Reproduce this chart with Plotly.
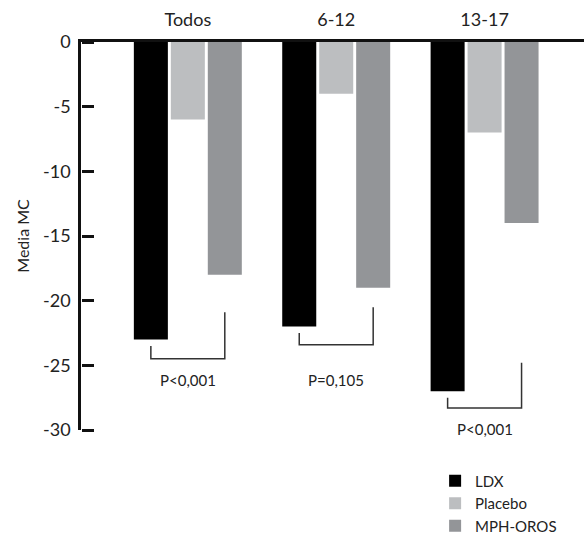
import plotly.graph_objects as go

groups = ["Todos", "6-12", "13-17"]
series = ["LDX", "Placebo", "MPH-OROS"]
ldx = [-23, -22, -27]
placebo = [-6, -4, -7]
mph = [-18, -19, -14]
colors = ["#000000", "#bcbec0", "#939598"]
p_labels = ["P<0,001", "P=0,105", "P<0,001"]
br_left_top = [-23.5, -22.5, -27.5]
br_bottom = [-24.5, -23.4, -28.3]
br_right_top = [-20.9, -20.5, -24.8]
label_y = [-26.1, -26.1, -29.9]
yticks = [0, -5, -10, -15, -20, -25, -30]
yticktext = ["0", "-5", "-10", "-15", "-20", "-25", "-30"]

bargap = 0.2525
bargroupgap = 0.08
FONT = "Lato"

fig = go.Figure()
for name, vals, c in zip(series, [ldx, placebo, mph], colors):
    fig.add_trace(go.Bar(x=groups, y=vals, name=name, marker=dict(color=c, line=dict(width=0))))

slot = (1 - bargap) / 3
shapes = []
annotations = []
for i in range(3):
    xl = i - slot
    xr = i + slot
    shapes.append(dict(type="path", xref="x", yref="y",
                       path=f"M {xl},{br_left_top[i]} L {xl},{br_bottom[i]} L {xr},{br_bottom[i]} L {xr},{br_right_top[i]}",
                       line=dict(color="#333333", width=1.5)))
    annotations.append(dict(x=i, y=label_y[i], xref="x", yref="y", text=p_labels[i],
                            showarrow=False, font=dict(family=FONT, size=15, color="#222222")))

fig.update_layout(
    width=584, height=534,
    margin=dict(l=81, r=0, t=42, b=104, autoexpand=False),
    paper_bgcolor="white", plot_bgcolor="white",
    barmode="group", bargap=bargap, bargroupgap=bargroupgap,
    shapes=shapes, annotations=annotations,
    showlegend=True,
    legend=dict(x=0.704, y=0.13, xref="paper", yref="container", xanchor="left", yanchor="top",
                font=dict(family=FONT, size=15, color="#222222"),
                bgcolor="rgba(0,0,0,0)", itemclick=False),
    font=dict(family=FONT, color="#222222"),
    # overlay axis used only to draw the inward-pointing tick marks
    yaxis2=dict(overlaying="y", side="right", anchor="free", position=0,
                range=[-30, 0], tickmode="array", tickvals=yticks,
                ticks="outside", ticklen=12, tickwidth=2.5, tickcolor="#111111",
                showticklabels=False, showgrid=False, zeroline=False, showline=False),
)
fig.update_xaxes(side="top", range=[-0.72, 2.67], showline=True, linecolor="#111111", linewidth=2.5,
                 ticks="", showgrid=False, zeroline=False, ticklabelstandoff=6,
                 tickfont=dict(family=FONT, size=18, color="#222222"))
fig.update_yaxes(selector=dict(overlaying=None))
fig.layout.yaxis.update(range=[-30, 0], showline=True, linecolor="#111111", linewidth=2.5,
                        ticks="", tickmode="array", tickvals=yticks, ticktext=yticktext,
                        ticklabelstandoff=4, showgrid=False, zeroline=False,
                        tickfont=dict(family=FONT, size=18, color="#222222"),
                        title=dict(text="Media MC", font=dict(family=FONT, size=16, color="#222222"), standoff=10))
# invisible trace so the overlay axis is rendered
fig.add_trace(go.Scatter(x=[groups[0]], y=[yticks[0]], yaxis="y2", mode="markers",
                         marker=dict(opacity=0), showlegend=False, hoverinfo="skip"))

fig.write_html("out.html")
